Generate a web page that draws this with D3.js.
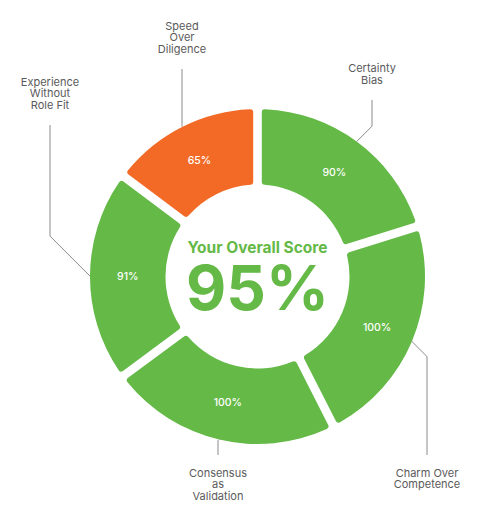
<!DOCTYPE html>
<html>
<head>
<meta charset="utf-8">
<script src="https://cdn.jsdelivr.net/npm/d3@7/dist/d3.min.js"></script>
<style>
  body { margin: 0; background: #fff; }
  svg { display: block; }
</style>
</head>
<body>
<svg id="chart" width="481" height="525"></svg>
<script>
// categories, clockwise from 12 o'clock
const categories = [
  "Certainty\nBias",
  "Charm Over\nCompetence",
  "Consensus\nas\nValidation",
  "Experience\nWithout\nRole Fit",
  "Speed\nOver\nDiligence"
];
const values = [90, 100, 100, 91, 65];
const overallScore = 95;
const scoreTitle = "Your Overall Score";

// where each leader line ends (label side), layout only
const labelEnds = [
  { x: 372, y: 100 },
  { x: 427, y: 455 },
  { x: 218, y: 455 },
  { x: 50, y: 125 },
  { x: 182, y: 69 }
];

window.onload = function () {
  const svg = d3.select("#chart");
  const cx = 257.5, cy = 276.5;
  const innerR = 92, outerR = 167.5;

  const green = "#64b947", orange = "#f26a26";
  const color = d3.scaleThreshold().domain([70]).range([orange, green]);

  const data = values.map((v, i) => ({ label: categories[i], value: v, end: labelEnds[i] }));

  const pie = d3.pie()
    .sort(null)
    .value((d) => d.value)
    .padAngle(0.045);

  const arc = d3.arc()
    .innerRadius(innerR)
    .outerRadius(outerR)
    .cornerRadius(3);

  const g = svg.append("g").attr("transform", `translate(${cx},${cy})`);
  const arcs = pie(data);

  // segments
  g.selectAll("path.seg")
    .data(arcs)
    .enter()
    .append("path")
    .attr("class", "seg")
    .attr("d", arc)
    .attr("fill", (d) => color(d.data.value));

  // percentage inside each segment
  g.selectAll("text.pct")
    .data(arcs)
    .enter()
    .append("text")
    .attr("class", "pct")
    .attr("transform", (d) => `translate(${arc.centroid(d)})`)
    .attr("dy", "0.35em")
    .attr("text-anchor", "middle")
    .style("font-family", "Inter, 'Noto Sans', sans-serif")
    .style("font-size", "10.5px")
    .style("font-weight", 500)
    .attr("fill", "#fff")
    .text((d) => d.data.value + "%");

  // leader lines: from outer edge at mid angle, 45deg diagonal then vertical
  const lines = svg.append("g");
  arcs.forEach(function (d) {
    const mid = (d.startAngle + d.endAngle) / 2;
    const x0 = cx + outerR * Math.sin(mid);
    const y0 = cy - outerR * Math.cos(mid);
    const e = d.data.end;
    const dir = e.y < y0 ? -1 : 1;
    const ey = y0 + dir * Math.abs(e.x - x0);
    lines.append("path")
      .attr("d", `M${x0},${y0}L${e.x},${ey}L${e.x},${e.y}`)
      .attr("fill", "none")
      .attr("stroke", "#8a8a8a")
      .attr("stroke-width", 1);

    const parts = d.data.label.split("\n");
    const lh = 11.5;
    const firstY = dir < 0 ? e.y - 20 - (parts.length - 1) * lh : e.y + 18;
    const t = lines.append("text")
      .attr("text-anchor", "middle")
      .style("font-family", "Inter, 'Noto Sans', sans-serif")
      .style("font-size", "11px")
      .attr("fill", "#5a5a5a");
    parts.forEach(function (p, i) {
      t.append("tspan")
        .attr("x", e.x)
        .attr("y", firstY + i * lh)
        .attr("dy", "0.35em")
        .text(p);
    });
  });

  // centre text
  svg.append("text")
    .attr("x", cx)
    .attr("y", 252.5)
    .attr("text-anchor", "middle")
    .style("font-family", "Inter, 'Noto Sans', sans-serif")
    .style("font-size", "15.5px")
    .style("font-weight", 700)
    .attr("fill", green)
    .text(scoreTitle);

  svg.append("text")
    .attr("x", cx)
    .attr("y", 310)
    .attr("text-anchor", "middle")
    .style("font-family", "Inter, 'Noto Sans', sans-serif")
    .style("font-size", "62px")
    .style("font-weight", 700)
    .attr("fill", green)
    .text(overallScore + "%");
};
</script>
</body>
</html>
